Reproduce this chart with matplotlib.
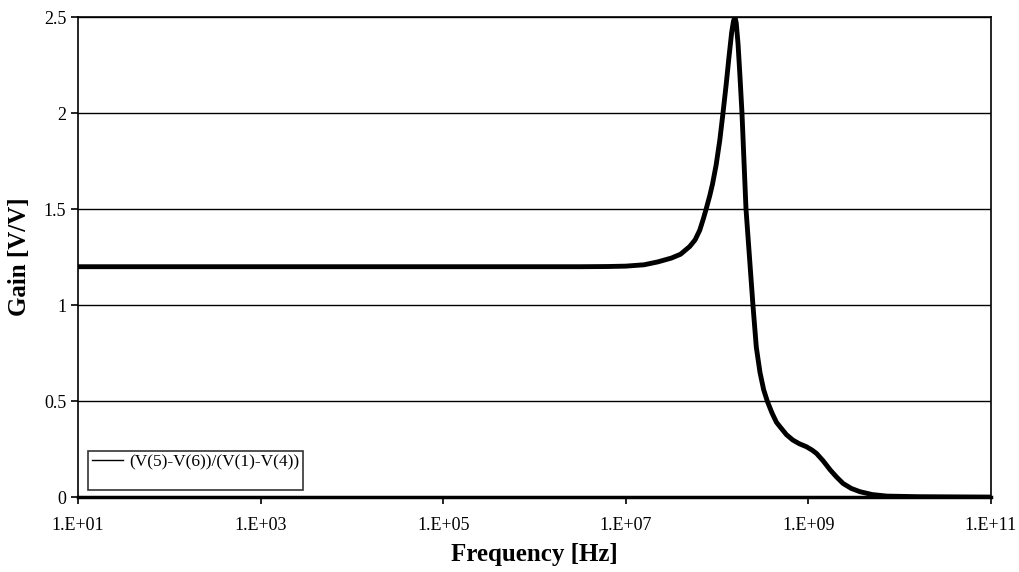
import matplotlib
matplotlib.use("Agg")
import matplotlib.pyplot as plt
from matplotlib.lines import Line2D

plt.rcParams['font.family'] = ['Liberation Serif', 'DejaVu Serif']

# values
freq = [1e1, 1e3, 1e5, 3.16e6, 6.31e6, 1e7, 1.585e7, 2.24e7, 3.16e7, 3.98e7,
        5.01e7, 5.75e7, 6.46e7, 7.08e7, 7.59e7, 8.32e7, 8.91e7, 9.77e7,
        1.072e8, 1.161e8, 1.259e8, 1.349e8, 1.445e8, 1.514e8, 1.57e8, 1.622e8,
        1.698e8, 1.778e8, 1.875e8, 1.972e8, 2.075e8, 2.265e8, 2.472e8, 2.692e8,
        2.951e8, 3.236e8, 3.548e8, 3.981e8, 4.467e8, 4.898e8, 5.754e8, 6.761e8,
        7.943e8, 9.55e8, 1.096e9, 1.23e9, 1.445e9, 1.738e9, 2.042e9, 2.399e9,
        2.951e9, 3.673e9, 5.012e9, 7.244e9, 1.585e10, 1e11]
gain = [1.2, 1.2, 1.2, 1.2, 1.201, 1.203, 1.21, 1.225, 1.245, 1.265,
        1.305, 1.34, 1.39, 1.45, 1.50, 1.57, 1.63, 1.73,
        1.86, 2.0, 2.15, 2.29, 2.42, 2.48, 2.5, 2.47,
        2.36, 2.2, 2.0, 1.75, 1.5, 1.25, 1.0, 0.78,
        0.65, 0.56, 0.5, 0.44, 0.39, 0.366, 0.325, 0.297,
        0.278, 0.262, 0.245, 0.227, 0.19, 0.141, 0.104, 0.071,
        0.045, 0.028, 0.013, 0.005, 0.002, 0.0]
xticks = [1e1, 1e3, 1e5, 1e7, 1e9, 1e11]
xlabels = ['1.E+01', '1.E+03', '1.E+05', '1.E+07', '1.E+09', '1.E+11']
yticks = [0, 0.5, 1, 1.5, 2, 2.5]
ylabels = ['0', '0.5', '1', '1.5', '2', '2.5']
series_name = '(V(5)-V(6))/(V(1)-V(4))'

fig = plt.figure(figsize=(10.2, 5.72), dpi=100)
ax = fig.add_axes([0.0765, 0.131, 0.895, 0.839])

ax.plot(freq, gain, color='black', lw=3.5, solid_joinstyle='round', solid_capstyle='round', zorder=3)

ax.set_xscale('log')
ax.set_xlim(1e1, 1e11)
ax.set_ylim(0, 2.5)
ax.set_xticks(xticks)
ax.set_xticklabels(xlabels)
ax.minorticks_off()
ax.set_yticks(yticks)
ax.set_yticklabels(ylabels)
ax.tick_params(axis='both', labelsize=13, direction='out', length=5, width=1.2, colors='black')
ax.tick_params(axis='x', pad=9)

ax.grid(axis='y', color='black', lw=1.0)
for s in ['left', 'right', 'top']:
    ax.spines[s].set_linewidth(1.2)
ax.spines['bottom'].set_linewidth(2.5)

ax.set_xlabel('Frequency [Hz]', fontsize=18, fontweight='bold', labelpad=7)
ax.set_ylabel('Gain [V/V]', fontsize=18, fontweight='bold', labelpad=9)

# legend box is taller than its single entry in the reference
handle = Line2D([], [], color='black', lw=1.0)
blank = Line2D([], [], color='none')
leg = ax.legend([handle, blank], [series_name, ' '], loc='lower left',
                bbox_to_anchor=(0.011, 0.0146), borderaxespad=0, fontsize=12.5,
                frameon=True, fancybox=False, handlelength=1.8, borderpad=0.2,
                handletextpad=0.4, labelspacing=0.0)
leg.get_frame().set_edgecolor('black')
leg.get_frame().set_linewidth(1.2)

fig.savefig('out.png', dpi=100)
